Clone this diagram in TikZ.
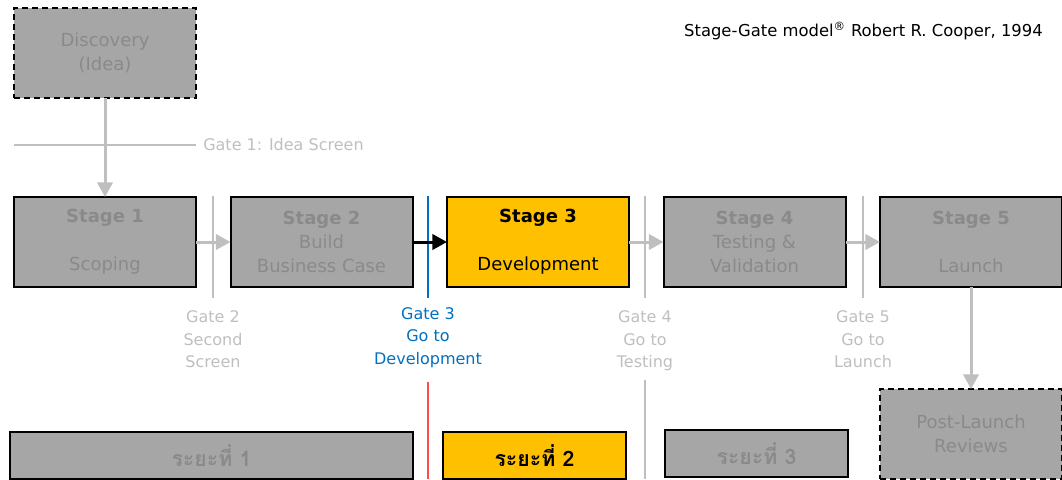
\documentclass[tikz,border=0pt]{standalone}
\usepackage{fontspec}
\setmainfont{DejaVu Sans}
\newfontfamily\thaifont[Script=Thai]{Loma}
\usetikzlibrary{arrows.meta, positioning}

\definecolor{boxgray}{HTML}{A6A6A6}
\definecolor{textgray}{HTML}{8A8A8A}
\definecolor{gategray}{HTML}{BFBFBF}
\definecolor{stageyellow}{HTML}{FFC000}
\definecolor{gateblue}{HTML}{0070C0}
\definecolor{cutred}{HTML}{FF4B4B}

\begin{document}
\begin{tikzpicture}[
    x=0.75pt, y=-0.75pt,
    node distance=25.875pt,
    stage/.style={rectangle, draw=black, line width=1.5pt, fill=boxgray, text=textgray, minimum width=136.5pt, minimum height=67.5pt, inner sep=0pt, outer sep=0pt, align=center, font=\fontsize{13.5}{18}\selectfont},
    current/.style={stage, fill=stageyellow, text=black},
    outer/.style={stage, dash pattern=on 4.5pt off 3pt},
    phase/.style={rectangle, draw=black, line width=1.5pt, fill=boxgray, text=textgray, minimum height=35pt, inner sep=0pt, outer sep=0pt, font=\thaifont\bfseries\fontsize{16}{18}\selectfont},
    gatelabel/.style={align=center, inner sep=0pt, text=gategray, font=\fontsize{12}{16.8}\selectfont},
    gateline/.style={draw=gategray, line width=1pt},
    arrow/.style={draw=gategray, line width=2.25pt, -{Triangle[length=11pt, width=11.5pt]}}
]
\useasboundingbox (0,0) rectangle (1062,479);

% Idea and title
\node (discovery) [outer] at (105,53) {Discovery\\(Idea)};
\node (credit) [anchor=east, inner sep=0pt, font=\fontsize{12.3}{14}\selectfont] at (1043,31) {Stage-Gate model\textsuperscript{®} Robert R. Cooper, 1994};

% Stages
\node (s1) [stage] at (105,242) {\textbf{Stage 1}\\[18pt]Scoping};
\node (s2) [stage, right=of s1] {\textbf{Stage 2}\\Build\\Business Case};
\node (s3) [current, right=of s2] {\textbf{Stage 3}\\[18pt]Development};
\node (s4) [stage, right=of s3] {\textbf{Stage 4}\\Testing \&\\Validation};
\node (s5) [stage, right=of s4] {\textbf{Stage 5}\\[18pt]Launch};
\node (post) [outer, below=76.5pt of s5] {Post-Launch\\Reviews};

% Gates
\coordinate (g1start) at (14,145);
\node (g1lbl) [gatelabel, anchor=west] at (203,145) {Gate 1: Idea Screen};
\coordinate (g2top) at (213,196);
\coordinate (g2bot) at (213,298);
\coordinate (g3top) at (428,196);
\coordinate (g3bot) at (428,298);
\coordinate (g4top) at (645,196);
\coordinate (g4bot) at (645,298);
\coordinate (g5top) at (863,196);
\coordinate (g5bot) at (863,298);
\node (g2lbl) [gatelabel, below=9.5pt of g2bot] {Gate 2\\Second\\Screen};
\node (g3lbl) [gatelabel, text=gateblue, below=7pt of g3bot] {Gate 3\\Go to\\Development};
\node (g4lbl) [gatelabel, below=9.5pt of g4bot] {Gate 4\\Go to\\Testing};
\node (g5lbl) [gatelabel, below=9.5pt of g5bot] {Gate 5\\Go to\\Launch};

\draw [gateline] (g1start) -- ([xshift=-5pt]g1lbl.west);
\draw [gateline] (g2top) -- (g2bot);
\draw [gateline, draw=gateblue] (g3top) -- (g3bot);
\draw [gateline] (g4top) -- (g4bot);
\draw [gateline] (g5top) -- (g5bot);

% Phases
\node (p1) [phase, minimum width=302pt] at (211.5,455.5) {ระยะที่ 1};
\node (p2) [phase, fill=stageyellow, text=black, minimum width=137pt] at (534.5,455.5) {ระยะที่ 2};
\node (p3) [phase, minimum width=137pt] at (756.5,453.5) {ระยะที่ 3};

\coordinate (cut1top) at (428,382);
\coordinate (cut1bot) at (428,479);
\coordinate (cut2top) at (645,380);
\coordinate (cut2bot) at (645,479);
\draw [line width=1pt, draw=cutred] (cut1top) -- (cut1bot);
\draw [gateline] (cut2top) -- (cut2bot);

% Flow
\draw [arrow] (discovery.south) -- (s1.north);
\draw [arrow] (s1) -- (s2);
\draw [arrow, draw=black] (s2) -- (s3);
\draw [arrow] (s3) -- (s4);
\draw [arrow] (s4) -- (s5);
\draw [arrow] (s5.south) -- (post.north);

\end{tikzpicture}
\end{document}
